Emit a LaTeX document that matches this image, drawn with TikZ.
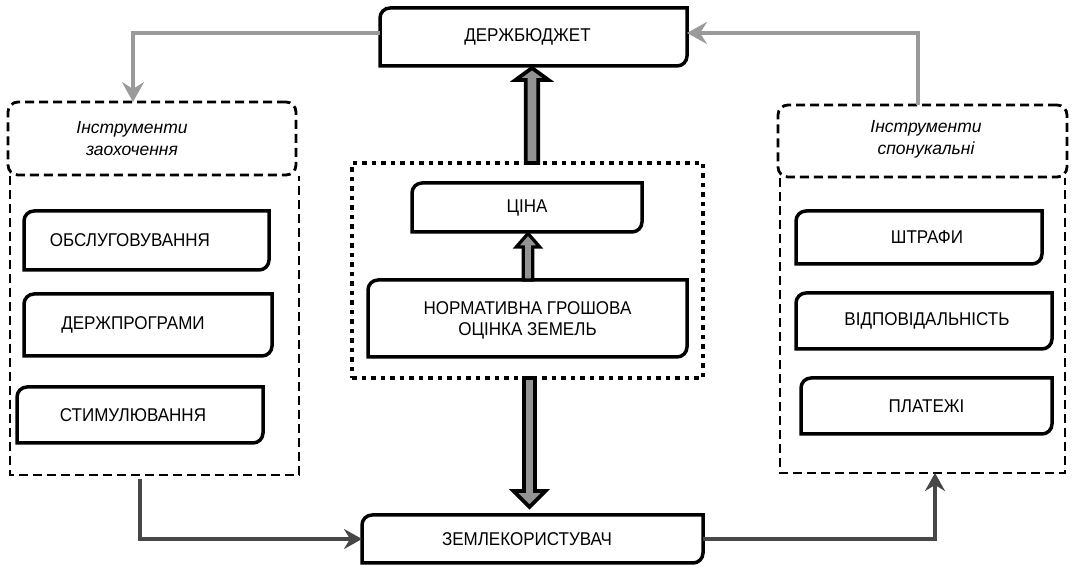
\documentclass[tikz,border=0pt]{standalone}
\usepackage{fontspec}
\setmainfont{Liberation Sans}[FakeStretch=0.92]
\newfontfamily\labfont{Liberation Sans}
\usetikzlibrary{arrows.meta,calc}
\definecolor{lgray}{HTML}{9A9A9A}
\definecolor{dgray}{HTML}{474747}
\definecolor{agray}{HTML}{939393}
\tikzset{
 bx/.style={inner sep=0pt, outer sep=0pt},
 txt/.style={inner sep=0pt, font=\fontsize{18.5}{21}\selectfont, align=center},
 labtxt/.style={inner sep=0pt, font=\labfont\itshape\fontsize{17.5}{22}\selectfont, align=center},
 boxline/.style={draw=black, line width=3.5pt, line join=miter},
 labbox/.style={draw=black, line width=2.8pt, dash pattern=on 9pt off 5pt, rounded corners=10pt, inner sep=0pt, outer sep=0pt},
 grpline/.style={draw=black, line width=2.8pt, dash pattern=on 9pt off 5pt},
 dotbox/.style={draw=black, line width=4.5pt, dash pattern=on 4.5pt off 5pt, inner sep=0pt, outer sep=0pt},
 grayarr/.style={draw=lgray, line width=4pt, -{Stealth[length=20pt,width=22pt,inset=7pt]}},
 darkarr/.style={draw=dgray, line width=4pt, -{Stealth[length=18pt,width=20pt,inset=6pt]}},
 blockarr/.style={draw=black, fill=agray, line width=3.8pt, line join=miter},
}
\newcommand\RB[1]{\draw[boxline] (#1.south west) -- ([yshift=-10pt]#1.north west) arc[start angle=180,end angle=90,radius=10pt] -- (#1.north east) -- ([yshift=10pt]#1.south east) arc[start angle=0,end angle=-90,radius=10pt] -- cycle;}
\begin{document}
\begin{tikzpicture}[x=1pt,y=1pt]
\useasboundingbox (0,0) rectangle (1072,565);
% top budget
\node[bx, minimum width=307pt, minimum height=58pt, label={[txt,xshift=-6pt]center:ДЕРЖБЮДЖЕТ}] (budget) at (533.5,528) {};
\RB{budget}
% left group
\node[labbox, minimum width=288pt, minimum height=73pt, label={[labtxt,xshift=-20pt]center:Інструменти\\заохочення}] (leftlab) at (152,426.5) {};
\node[bx, minimum width=289pt, minimum height=299pt] (leftgrp) at (154.5,239.5) {};
\draw[grpline] (leftgrp.north west) -- (leftgrp.south west) -- (leftgrp.south east) -- (leftgrp.north east);
\node[bx, minimum width=245pt, minimum height=59pt, label={[txt,xshift=-16.5pt]center:ОБСЛУГОВУВАННЯ}] (obs) at (146.5,324.5) {};
\RB{obs}
\node[bx, minimum width=248pt, minimum height=62pt, label={[txt,xshift=-15pt]center:ДЕРЖПРОГРАМИ}] (dprog) at (148,240) {};
\RB{dprog}
\node[bx, minimum width=246pt, minimum height=56pt, label={[txt,xshift=-7pt]center:СТИМУЛЮВАННЯ}] (stim) at (140,150) {};
\RB{stim}
% right group
\node[labbox, minimum width=289pt, minimum height=72pt, label={[labtxt,xshift=3.5pt,yshift=2pt]center:Інструменти\\спонукальні}] (rightlab) at (922.5,424) {};
\node[bx, minimum width=285pt, minimum height=295pt] (rightgrp) at (922.5,239.5) {};
\draw[grpline] (rightgrp.north west) -- (rightgrp.south west) -- (rightgrp.south east) -- (rightgrp.north east);
\node[bx, minimum width=246pt, minimum height=53pt, label={[txt,xshift=8pt]center:ШТРАФИ}] (shtr) at (919,327.5) {};
\RB{shtr}
\node[bx, minimum width=256pt, minimum height=56pt, label={[txt,xshift=3pt]center:ВІДПОВІДАЛЬНІСТЬ}] (vidp) at (924,244) {};
\RB{vidp}
\node[bx, minimum width=251pt, minimum height=56pt, label={[txt]center:ПЛАТЕЖІ}] (plat) at (926.5,159) {};
\RB{plat}
% centre
\node[dotbox, minimum width=351pt, minimum height=215pt] (dotted) at (527.5,294.5) {};
\node[bx, minimum width=230pt, minimum height=49pt, label={[txt]center:ЦІНА}] (cina) at (527,357.5) {};
\RB{cina}
\node[bx, minimum width=319pt, minimum height=77pt, label={[txt,yshift=-2pt]center:НОРМАТИВНА ГРОШОВА\\ОЦІНКА ЗЕМЕЛЬ}] (norm) at (527.5,246.5) {};
\RB{norm}
\node[bx, minimum width=341pt, minimum height=48pt, label={[txt,xshift=-5.5pt]center:ЗЕМЛЕКОРИСТУВАЧ}] (zeml) at (532.5,26) {};
\RB{zeml}
% block arrows
\draw[blockarr] let \p1=(budget.south), \p2=(dotted.north) in
  (532pt,\y1-2pt) -- (515.5pt,\y1-14pt) -- (525.75pt,\y1-14pt) -- (525.75pt,\y2) -- (538.25pt,\y2) -- (538.25pt,\y1-14pt) -- (548.5pt,\y1-14pt) -- cycle;
\draw[blockarr, line width=3.2pt] let \p1=(cina.south), \p2=(norm.north) in
  (528pt,\y1-1.5pt) -- (516.25pt,\y1-15pt) -- (523.25pt,\y1-15pt) -- (523.25pt,\y2) -- (532.75pt,\y2) -- (532.75pt,\y1-15pt) -- (539.75pt,\y1-15pt) -- cycle;
\draw[blockarr] let \p1=(dotted.south), \p2=(zeml.north) in
  (524pt,\y1) -- (524pt,\y2+24pt) -- (513.5pt,\y2+24pt) -- (529.5pt,\y2+8pt) -- (545.5pt,\y2+24pt) -- (535pt,\y2+24pt) -- (535pt,\y1) -- cycle;
% connectors
\draw[grayarr] ([yshift=4pt]budget.west) -| ([xshift=-19pt]leftlab.north);
\draw[grayarr] ([xshift=-4.5pt]rightlab.north) |- ([yshift=4pt]budget.east);
\draw[darkarr, shorten <=4pt] ([xshift=-14.5pt]leftgrp.south) |- (zeml.west);
\draw[darkarr] (zeml.east) -| ([xshift=12.5pt]rightgrp.south);
\end{tikzpicture}
\end{document}
